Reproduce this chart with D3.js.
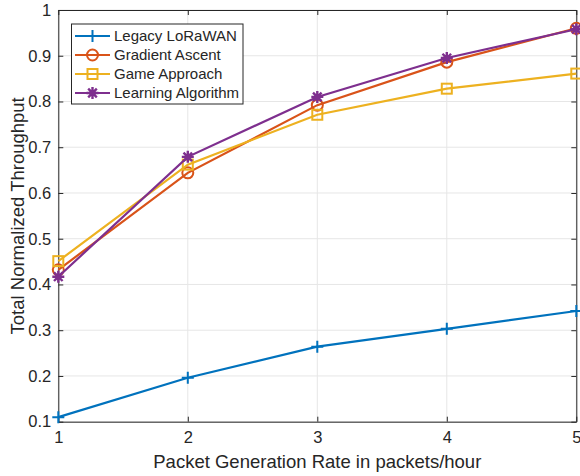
<!DOCTYPE html>
<html><head><meta charset="utf-8">
<script src="https://cdn.jsdelivr.net/npm/d3@7"></script>
<style>body{margin:0;background:#fff}svg text{font-family:"Liberation Sans",Arial,sans-serif;fill:#262626}</style>
</head><body><svg id="c" width="580" height="476"></svg>
<script>
const xValues = [1, 2, 3, 4, 5];
const seriesNames = ["Legacy LoRaWAN", "Gradient Ascent", "Game Approach", "Learning Algorithm"];
const legacy = [0.110, 0.196, 0.264, 0.303, 0.342];
const gradient = [0.432, 0.644, 0.792, 0.886, 0.960];
const game = [0.451, 0.662, 0.771, 0.828, 0.861];
const learning = [0.417, 0.679, 0.810, 0.895, 0.958];
const xTicks = [1, 2, 3, 4, 5];
const yTicks = [0.1, 0.2, 0.3, 0.4, 0.5, 0.6, 0.7, 0.8, 0.9, 1];
const colors = ["#0072BD", "#D95319", "#EDB120", "#7E2F8E"];
const markers = ["plus", "circle", "square", "star"];

const L = 58.3, R = 576.3, T = 10, B = 421.7;
const svg = d3.select("#c");
const x = d3.scaleLinear().domain([1, 5]).range([L, R]);
const y = d3.scaleLinear().domain([0.1, 1]).range([B, T]);

// grid
const g = svg.append("g");
g.selectAll(".vg").data(xTicks).join("line")
  .attr("x1", d => x(d)).attr("x2", d => x(d)).attr("y1", T).attr("y2", B)
  .attr("stroke", "#e6e6e6").attr("stroke-width", 1);
g.selectAll(".hg").data(yTicks).join("line")
  .attr("y1", d => y(d)).attr("y2", d => y(d)).attr("x1", L).attr("x2", R)
  .attr("stroke", "#e6e6e6").attr("stroke-width", 1);

// axes
const fmtY = d => d === 1 ? "1" : d3.format(".1f")(d);
const axB = svg.append("g").attr("transform", `translate(0,${B})`)
  .call(d3.axisBottom(x).tickValues(xTicks).tickFormat(d3.format("d")).tickSizeInner(-5).tickSizeOuter(0).tickPadding(10));
const axL = svg.append("g").attr("transform", `translate(${L},0)`)
  .call(d3.axisLeft(y).tickValues(yTicks).tickFormat(fmtY).tickSizeInner(-5).tickSizeOuter(0).tickPadding(7));
const axT = svg.append("g").attr("transform", `translate(0,${T})`)
  .call(d3.axisTop(x).tickValues(xTicks).tickFormat("").tickSizeInner(-5).tickSizeOuter(0));
const axR = svg.append("g").attr("transform", `translate(${R},0)`)
  .call(d3.axisRight(y).tickValues(yTicks).tickFormat("").tickSizeInner(-5).tickSizeOuter(0));
[axB, axL, axT, axR].forEach(a => {
  a.selectAll("path,line").attr("stroke", "#262626").attr("stroke-width", 1);
  a.selectAll("text").style("font-size", "16.5px").style("font-family", '"Liberation Sans",Arial,sans-serif').attr("fill", "#262626");
});

// markers
function drawMarker(sel, type, color) {
  if (type === "plus") {
    sel.append("path").attr("d", "M-6,0H6M0,-6V6").attr("stroke", color).attr("stroke-width", 2).attr("fill", "none");
  } else if (type === "circle") {
    sel.append("circle").attr("r", 5.5).attr("stroke", color).attr("stroke-width", 2).attr("fill", "none");
  } else if (type === "square") {
    sel.append("rect").attr("x", -5).attr("y", -5).attr("width", 10).attr("height", 10).attr("stroke", color).attr("stroke-width", 2).attr("fill", "none");
  } else {
    sel.append("path").attr("d", "M-6,0H6M0,-6V6M-4.3,-4.3L4.3,4.3M-4.3,4.3L4.3,-4.3").attr("stroke", color).attr("stroke-width", 2.4).attr("fill", "none");
    sel.append("circle").attr("r", 3).attr("fill", color);
  }
}

const allSeries = [legacy, gradient, game, learning];
const line = d3.line().x((d, i) => x(xValues[i])).y(d => y(d));
allSeries.forEach((vals, si) => {
  const sg = svg.append("g");
  sg.append("path").datum(vals).attr("d", line).attr("fill", "none")
    .attr("stroke", colors[si]).attr("stroke-width", 2.2);
  vals.forEach((v, i) => {
    drawMarker(sg.append("g").attr("transform", `translate(${x(xValues[i])},${y(v)})`), markers[si], colors[si]);
  });
});

// legend
const lg = svg.append("g");
lg.append("rect").attr("x", 71.5).attr("y", 24).attr("width", 171.5).attr("height", 80)
  .attr("fill", "#fff").attr("stroke", "#262626").attr("stroke-width", 1);
const ly = [36, 55, 74, 93];
seriesNames.forEach((name, i) => {
  lg.append("line").attr("x1", 75).attr("x2", 110).attr("y1", ly[i]).attr("y2", ly[i])
    .attr("stroke", colors[i]).attr("stroke-width", 2.2);
  drawMarker(lg.append("g").attr("transform", `translate(92.5,${ly[i]})`), markers[i], colors[i]);
  lg.append("text").attr("x", 114).attr("y", ly[i]).attr("dy", "0.35em")
    .style("font-size", "15px").text(name);
});

// axis labels
svg.append("text").attr("x", (L + R) / 2).attr("y", 468).attr("text-anchor", "middle")
  .style("font-size", "18.5px").text("Packet Generation Rate in packets/hour");
svg.append("text").attr("transform", `translate(24,${(T + B) / 2}) rotate(-90)`).attr("text-anchor", "middle")
  .style("font-size", "18.5px").text("Total Normalized Throughput");
</script></body></html>
